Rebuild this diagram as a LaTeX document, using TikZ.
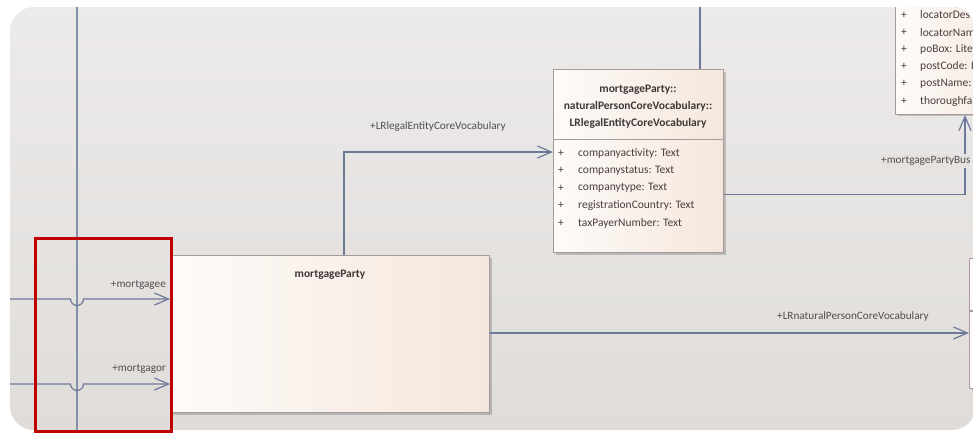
\documentclass[tikz,border=0pt]{standalone}
\usepackage{fontspec}
\setmainfont{Carlito}
\usetikzlibrary{arrows.meta,calc,shadows}
\definecolor{connc}{HTML}{6D7998}
\definecolor{vlinec}{HTML}{8390AC}
\definecolor{boxborder}{HTML}{A8999A}
\definecolor{boxleft}{HTML}{FDFBF9}
\definecolor{boxright}{HTML}{F5E7DC}
\definecolor{paneltop}{HTML}{EDEBEA}
\definecolor{panelbot}{HTML}{DFDCD9}
\definecolor{panelmid}{HTML}{E5E2E0}
\definecolor{labelc}{HTML}{505050}
\definecolor{attrc}{HTML}{4A3E3E}
\definecolor{titlec}{HTML}{3E3838}
\definecolor{hlred}{HTML}{C00000}
\begin{document}
\begin{tikzpicture}[x=1pt,y=-1pt,
  cls/.style={draw=boxborder, line width=1.1pt, left color=boxleft, right color=boxright,
    inner sep=0pt, drop shadow={shadow xshift=2pt, shadow yshift=-2pt, fill=black, opacity=0.18}},
  conn/.style={draw=connc, line width=1.2pt},
  assoc/.style={conn, -{Straight Barb[length=14pt,width=12pt,line width=1.2pt]}},
  lbl/.style={text=labelc, font=\fontsize{11.2}{13}\selectfont, inner sep=0pt},
  attr/.style={text=attrc, font=\fontsize{11.5}{13}\selectfont, inner sep=0pt, anchor=west},
  ttl/.style={text=titlec, font=\bfseries\fontsize{11.5}{17}\selectfont, inner sep=0pt, align=center},
  sep/.style={draw=boxborder, line width=1.1pt}
]
\useasboundingbox (0,0) rectangle (973,432);
\fill[white] (0,0) rectangle (973,432);
\begin{scope}
\path[clip, rounded corners=24pt] (10,7) rectangle (976,430);
\shade[top color=paneltop, bottom color=panelbot] (0,0) rectangle (980,432);

% vertical lines from top
\coordinate (v1t) at (77,0);
\coordinate (v1b) at (77,432);
\draw[conn, draw=vlinec] (v1t) -- (v1b);

% boxes
\node[cls, minimum width=319pt, minimum height=157pt, anchor=north west] (mp) at (170,255) {};
\node[ttl] (mpt) at ($(mp.north)+(0,20)$) {mortgageParty};

\node[cls, minimum width=170pt, minimum height=183pt, anchor=north west] (b2) at (553,69) {};
\node[ttl] (b2t) at (638,106.5) {mortgageParty::\\naturalPersonCoreVocabulary::\\LRlegalEntityCoreVocabulary};
\coordinate (b2s) at (0,139.5);
\draw[sep] (b2.west |- b2s) -- (b2.east |- b2s);
\foreach \t [count=\i from 0] in {companyactivity: Text, companystatus: Text, companytype: Text, registrationCountry: Text, taxPayerNumber: Text}{
  \node[attr] (b2p\i) at (558,153+17.5*\i) {+};
  \node[attr] (b2a\i) at (578,153+17.5*\i) {\t};
}

\node[cls, minimum width=120pt, minimum height=150pt, anchor=south west] (b3) at (895,115) {};
\foreach \t [count=\i from 0] in {locatorDes, locatorNam, poBox: Liter, postCode: L, postName:, thoroughfar}{
  \node[attr] (b3p\i) at (901,15+17.2*\i) {+};
  \node[attr] (b3a\i) at (920,15+17.2*\i) {\t};
}

\node[cls, minimum width=60pt, minimum height=130pt, anchor=north west] (b4) at (969,258) {};
\coordinate (b4s) at (0,311);
\draw[sep] (b4.west |- b4s) -- (b4.east |- b4s);

% connectors
\coordinate (top2) at (700,0);
\draw[conn] (top2) -- (top2 |- b2.north);

\coordinate (j1) at (344,152);
\draw[assoc] (mp.north -| j1) |- (b2.west |- j1);
\node[lbl, anchor=west] (l1) at (370,127) {+LRlegalEntityCoreVocabulary};

\coordinate (j2) at (965,194.5);
\draw[assoc] (b2.east |- j2) -| (b3.south -| j2);
\node[lbl, anchor=west, fill=panelmid, inner ysep=2pt] (l2) at (881,161) {+mortgagePartyBus};

\coordinate (j3) at (0,333);
\draw[assoc] (mp.east |- j3) -- (b4.west |- j3);
\node[lbl, anchor=west] (l3) at (777,317) {+LRnaturalPersonCoreVocabulary};

\coordinate (in1) at (10,299);
\coordinate (in2) at (10,384);
\draw[assoc] (in1) -- ($(in1 -| v1t)+(-6.5,0)$) arc[start angle=180, end angle=0, radius=6.5] -- (in1 -| mp.west);
\draw[assoc] (in2) -- ($(in2 -| v1t)+(-6.5,0)$) arc[start angle=180, end angle=0, radius=6.5] -- (in2 -| mp.west);
\node[lbl, anchor=east] (l4) at (166,285) {+mortgagee};
\node[lbl, anchor=east] (l5) at (166,369) {+mortgagor};
\end{scope}

% highlight
\node[draw=hlred, line width=3pt, minimum width=135.5pt, minimum height=193.5pt, anchor=north west, inner sep=0pt] (hl) at (34,236.5) {};
\end{tikzpicture}
\end{document}
